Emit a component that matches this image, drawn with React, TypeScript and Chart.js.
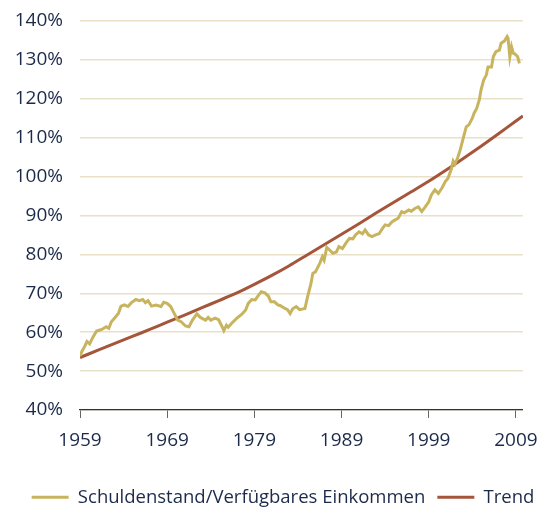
import React, { useEffect, useRef } from "react";
import { Chart, registerables } from "chart.js";

Chart.register(...registerables);

const DEBT_YEARS = [
  1959.0, 1959.2, 1959.5, 1959.8, 1960.1, 1960.5, 1960.9, 1961.2, 1961.5, 1962.0,
  1962.3, 1962.6, 1963.0, 1963.4, 1963.7, 1964.1, 1964.5, 1964.9, 1965.4, 1965.8,
  1966.2, 1966.5, 1966.8, 1967.2, 1967.7, 1968.3, 1968.6, 1969.0, 1969.4, 1969.7,
  1970.0, 1970.2, 1970.6, 1971.1, 1971.5, 1971.9, 1972.4, 1972.8, 1973.4, 1973.7,
  1974.0, 1974.5, 1974.9, 1975.3, 1975.5, 1975.8, 1976.0, 1976.4, 1977.0, 1977.6,
  1978.0, 1978.3, 1978.7, 1979.1, 1979.5, 1979.8, 1980.2, 1980.6, 1980.9, 1981.3,
  1981.7, 1982.0, 1982.5, 1982.8, 1983.1, 1983.4, 1983.8, 1984.2, 1984.8, 1985.1,
  1985.5, 1985.7, 1986.0, 1986.5, 1986.8, 1987.0, 1987.3, 1987.6, 1988.0, 1988.4,
  1988.7, 1989.1, 1989.5, 1989.9, 1990.3, 1990.6, 1991.0, 1991.4, 1991.7, 1992.1,
  1992.5, 1992.9, 1993.3, 1993.7, 1994.0, 1994.4, 1994.8, 1995.1, 1995.5, 1995.9,
  1996.2, 1996.7, 1997.0, 1997.4, 1997.8, 1998.2, 1998.6, 1999.0, 1999.3, 1999.7,
  2000.1, 2000.5, 2000.9, 2001.2, 2001.6, 2001.8, 2002.0, 2002.3, 2002.6, 2002.9,
  2003.1, 2003.3, 2003.6, 2004.0, 2004.2, 2004.5, 2004.8, 2005.0, 2005.3, 2005.6,
  2005.8, 2006.2, 2006.4, 2006.7, 2007.1, 2007.3, 2007.7, 2008.0, 2008.1, 2008.3,
  2008.5, 2008.7, 2008.9, 2009.2, 2009.4,
];

const DEBT_VALUES = [
  53.8, 55.0, 56.2, 57.6, 57.0, 58.8, 60.3, 60.5, 60.7, 61.4,
  61.0, 62.7, 63.7, 64.8, 66.7, 67.0, 66.6, 67.6, 68.4, 68.1,
  68.4, 67.6, 68.1, 66.7, 67.0, 66.6, 67.7, 67.4, 66.6, 65.3,
  64.0, 63.1, 62.7, 61.6, 61.4, 63.1, 64.7, 63.8, 63.1, 63.8,
  63.1, 63.6, 63.2, 61.4, 60.4, 61.8, 61.3, 62.3, 63.6, 64.7,
  65.7, 67.4, 68.4, 68.3, 69.6, 70.4, 70.1, 69.3, 67.8, 67.8,
  67.0, 66.8, 66.1, 65.8, 64.8, 66.0, 66.6, 65.8, 66.1, 69.1,
  72.6, 75.1, 75.5, 77.7, 79.4, 78.5, 81.8, 81.2, 80.3, 80.6,
  82.0, 81.5, 82.9, 84.1, 84.0, 85.0, 85.8, 85.3, 86.3, 85.0,
  84.6, 85.0, 85.3, 86.7, 87.6, 87.4, 88.4, 88.8, 89.3, 91.0,
  90.7, 91.4, 91.1, 91.8, 92.2, 91.0, 92.2, 93.5, 95.3, 96.6,
  95.7, 97.0, 98.7, 99.5, 102.0, 104.0, 103.2, 104.7, 106.8, 109.4,
  111.1, 112.8, 113.3, 115.0, 116.3, 117.5, 119.7, 122.3, 124.8, 126.1,
  128.2, 128.2, 130.8, 132.1, 132.5, 134.3, 134.9, 136.0, 135.6, 130.8,
  133.4, 131.7, 131.5, 130.8, 129.1,
];

const TREND_YEARS = [
  1959, 1961, 1963, 1965, 1967, 1969, 1971, 1973, 1975, 1977, 1979, 1981, 1983,
  1985, 1987, 1989, 1991, 1993, 1995, 1997, 1999, 2001, 2003, 2005, 2007, 2009, 2009.8,
];

const TREND_VALUES = [
  53.5, 55.3, 57.1, 58.9, 60.7, 62.6, 64.4, 66.3, 68.2, 70.1, 72.3, 74.6, 77.1,
  79.8, 82.5, 85.2, 87.9, 90.7, 93.4, 96.1, 98.8, 101.7, 104.7, 107.8, 111.0, 114.3, 115.6,
];

const X_TICKS = [1959, 1969, 1979, 1989, 1999, 2009];
const SERIES_LABELS = ["Schuldenstand/Verfügbares Einkommen", "Trend"];

const DEBT_COLOR = "#c8b45e";
const TREND_COLOR = "#a4553a";
const TEXT_COLOR = "#1c2a4a";
const FONT = "'Open Sans', 'DejaVu Sans', sans-serif";

const legendLayout = {
  id: "legendLayout",
  beforeLayout(chart: any) {
    const lg = chart.legend;
    if (lg && !lg._fitPatched) {
      const orig = lg.fit;
      lg.fit = function () {
        orig.call(this);
        this.height = 26;
      };
      lg._fitPatched = true;
    }
  },
  afterLayout(chart: any) {
    const lg = chart.legend;
    if (lg) {
      lg.left = 17;
      lg.right = chart.width;
      lg.width = lg.right - lg.left;
      lg.bottom = chart.height;
      lg.height = lg.bottom - lg.top;
    }
  },
};

export default function App() {
  const ref = useRef<HTMLCanvasElement | null>(null);

  useEffect(() => {
    if (!ref.current) return;
    const chart = new Chart(ref.current, {
      type: "line",
      plugins: [legendLayout],
      data: {
        datasets: [
          {
            label: SERIES_LABELS[0],
            data: DEBT_YEARS.map((x, i) => ({ x, y: DEBT_VALUES[i] })),
            borderColor: DEBT_COLOR,
            backgroundColor: DEBT_COLOR,
            borderWidth: 3,
            pointRadius: 0,
            tension: 0,
          },
          {
            label: SERIES_LABELS[1],
            data: TREND_YEARS.map((x, i) => ({ x, y: TREND_VALUES[i] })),
            borderColor: TREND_COLOR,
            backgroundColor: TREND_COLOR,
            borderWidth: 3,
            pointRadius: 0,
            tension: 0.2,
          },
        ],
      },
      options: {
        responsive: false,
        animation: false,
        layout: { padding: { left: 0, right: 22, top: 21, bottom: 7 } },
        plugins: {
          tooltip: { enabled: false },
          legend: {
            position: "bottom",
            labels: {
              color: TEXT_COLOR,
              font: { family: FONT, size: 18.5 },
              boxWidth: 37,
              boxHeight: 3,
              padding: 12,
              generateLabels: (c: any) =>
                c.data.datasets.map((d: any, i: number) => ({
                  text: d.label,
                  fillStyle: d.borderColor,
                  strokeStyle: d.borderColor,
                  lineWidth: 0,
                  fontColor: TEXT_COLOR,
                  hidden: false,
                  datasetIndex: i,
                })),
            },
          },
        },
        scales: {
          x: {
            type: "linear",
            min: 1959,
            max: 2009.8,
            afterBuildTicks: (s: any) => {
              s.ticks = X_TICKS.map((v) => ({ value: v }));
            },
            afterFit: (s: any) => {
              s.height = 66;
            },
            ticks: {
              color: TEXT_COLOR,
              font: { family: FONT, size: 19 },
              padding: 11,
              maxRotation: 0,
              autoSkip: false,
              callback: (v: any) => String(v),
            },
            grid: {
              drawOnChartArea: false,
              drawTicks: true,
              tickLength: 8,
              color: "#666666",
              lineWidth: 1,
            },
            border: { display: true, color: "#333333", width: 1.2 },
          },
          y: {
            min: 40,
            max: 140,
            afterFit: (s: any) => {
              s.width = 80;
              s.paddingTop = 0;
              s.paddingBottom = 0;
            },
            ticks: {
              stepSize: 10,
              color: TEXT_COLOR,
              font: { family: FONT, size: 19 },
              padding: 17,
              callback: (v: any) => `${v}%`,
            },
            grid: { color: "#e9e0c8", lineWidth: 1.5, drawTicks: false },
            border: { display: false },
          },
        },
      },
    });
    return () => chart.destroy();
  }, []);

  return (
    <div style={{ position: "absolute", left: 0, top: 0, width: 549, height: 509, background: "#ffffff" }}>
      <canvas ref={ref} width={549} height={509} />
    </div>
  );
}
